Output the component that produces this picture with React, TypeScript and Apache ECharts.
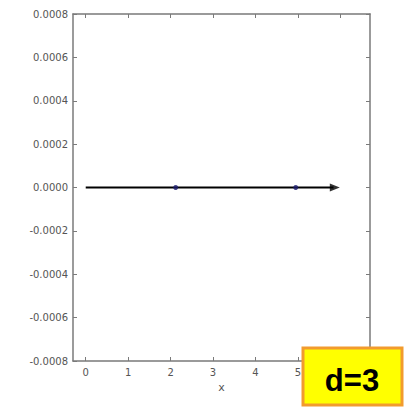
import React, { useEffect, useRef } from "react";
import * as echarts from "echarts";

const xTicks = [0, 1, 2, 3, 4, 5, 6];
const xLabels = [0, 1, 2, 3, 4, 5];
const yTicks = [-0.0008, -0.0006, -0.0004, -0.0002, 0, 0.0002, 0.0004, 0.0006, 0.0008];
const lineData = [[0, 0], [5.84, 0]];
const arrowData = [[5.87, 0]];
const pointData = [[2.12, 0], [4.95, 0]];
const boxLabel = "d=3";
const xName = "x";

const GRAY = "#7a7a7a";
const LABEL = "#555555";
const FONT = "DejaVu Sans";

export default function App() {
  const ref = useRef<HTMLDivElement>(null);
  useEffect(() => {
    if (!ref.current) return;
    const chart = echarts.init(ref.current, undefined, { renderer: "svg" });
    const xBase = {
      type: "value" as const,
      min: -0.3,
      max: 6.7,
      axisLine: { show: true, onZero: false, lineStyle: { color: GRAY, width: 1.5 } },
      axisTick: { show: true, inside: true, length: 4, customValues: xTicks, lineStyle: { color: GRAY } },
      splitLine: { show: false },
    };
    const yBase = {
      type: "value" as const,
      min: yTicks[0],
      max: yTicks[yTicks.length - 1],
      interval: 0.0002,
      axisLine: { show: true, onZero: false, lineStyle: { color: GRAY, width: 1.5 } },
      axisTick: { show: true, inside: true, length: 4, lineStyle: { color: GRAY } },
      splitLine: { show: false },
    };
    chart.setOption({
      animation: false,
      grid: { left: 73, top: 14, width: 297, height: 347, containLabel: false },
      xAxis: [
        {
          ...xBase,
          position: "bottom",
          name: xName,
          nameLocation: "middle",
          nameGap: 20,
          nameTextStyle: { color: LABEL, fontFamily: FONT, fontSize: 11 },
          axisLabel: {
            show: true,
            customValues: xLabels,
            color: LABEL,
            fontFamily: FONT,
            fontSize: 10,
            margin: 6,
          },
        },
        { ...xBase, position: "top", axisLabel: { show: false } },
      ],
      yAxis: [
        {
          ...yBase,
          position: "left",
          axisLabel: {
            show: true,
            color: LABEL,
            fontFamily: FONT,
            fontSize: 10,
            margin: 5,
            formatter: (v: number) => {
              const r = Math.round(v * 10000) / 10000;
              return (r === 0 ? 0 : r).toFixed(4);
            },
          },
        },
        { ...yBase, position: "right", axisLabel: { show: false } },
      ],
      series: [
        {
          type: "line",
          data: lineData,
          symbol: "none",
          lineStyle: { color: "#000000", width: 2 },
          z: 2,
        },
        {
          type: "scatter",
          data: arrowData,
          symbol: "triangle",
          symbolSize: [8, 10],
          symbolRotate: -90,
          itemStyle: { color: "#000000" },
          z: 3,
        },
        {
          type: "scatter",
          data: pointData,
          symbolSize: 5,
          itemStyle: { color: "#1c1c6e" },
          z: 4,
        },
      ],
      graphic: [
        {
          type: "rect",
          shape: { x: 303, y: 348, width: 99, height: 57 },
          style: { fill: "#ffff00", stroke: "#f29b2e", lineWidth: 3 },
          z: 100,
        },
        {
          type: "text",
          x: 352,
          y: 380,
          style: {
            text: boxLabel,
            fill: "#000000",
            font: "bold 31px 'Liberation Sans'",
            align: "center",
            verticalAlign: "middle",
          },
          z: 101,
        },
      ],
    });
    return () => chart.dispose();
  }, []);
  return (
    <div
      ref={ref}
      style={{ position: "absolute", left: 0, top: 0, width: 413, height: 407, background: "#ffffff" }}
    />
  );
}
